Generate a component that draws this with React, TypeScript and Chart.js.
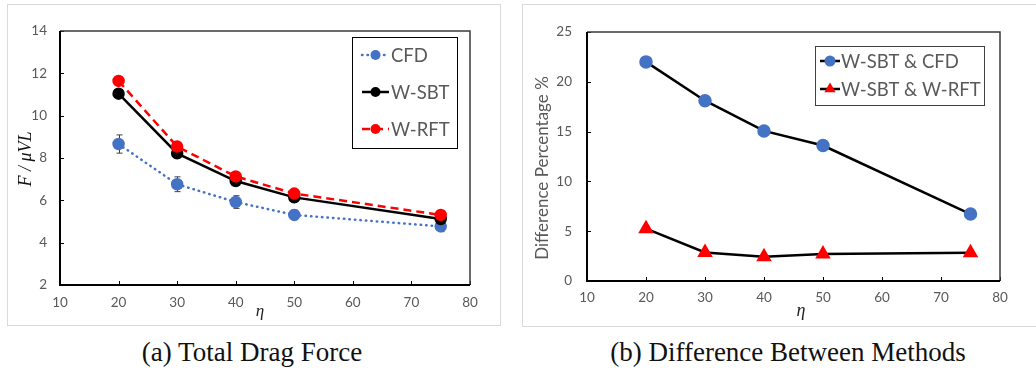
import React, { useEffect, useRef } from "react";
import { Chart, registerables } from "chart.js";

Chart.register(...registerables);

// ---------- data ----------
const etaValues = [20, 30, 40, 50, 75];
const cfdForce = [8.66, 6.76, 5.92, 5.31, 4.77];
const cfdError = [0.43, 0.35, 0.3, 0.23, 0.25];
const wsbtForce = [11.04, 8.22, 6.91, 6.14, 5.12];
const wrftForce = [11.64, 8.54, 7.13, 6.32, 5.31];
const diffSbtCfd = [22.0, 18.1, 15.07, 13.6, 6.72];
const diffSbtRft = [5.25, 2.87, 2.43, 2.7, 2.83];

const xTickRange = { min: 10, max: 80, step: 10 };
const leftYRange = { min: 2, max: 14, step: 2 };
const rightYRange = { min: 0, max: 25, step: 5 };

const leftLabels = ["CFD", "W-SBT", "W-RFT"];
const rightLabels = ["W-SBT & CFD", "W-SBT & W-RFT"];

const SANS = "Lato, 'Open Sans', sans-serif";
const GREY = "#595959";
const BLUE = "#4472C4";
const RED = "#FF0000";

const toXY = (ys: number[]) => etaValues.map((x, i) => ({ x, y: ys[i] }));

// ---------- plugins ----------
const framePlugin = {
  id: "frame",
  beforeDatasetsDraw(chart: any) {
    const { ctx, chartArea: a, scales } = chart;
    ctx.save();
    ctx.strokeStyle = "#000";
    ctx.lineWidth = 1;
    scales.x.ticks.forEach((t: any) => {
      const px = Math.round(scales.x.getPixelForValue(t.value)) + 0.5;
      ctx.beginPath();
      ctx.moveTo(px, a.bottom);
      ctx.lineTo(px, a.bottom - 4);
      ctx.stroke();
    });
    scales.y.ticks.forEach((t: any) => {
      const py = Math.round(scales.y.getPixelForValue(t.value)) + 0.5;
      ctx.beginPath();
      ctx.moveTo(a.left, py);
      ctx.lineTo(a.left + 4, py);
      ctx.stroke();
    });
    ctx.strokeStyle = "#3a3a3a";
    ctx.lineWidth = 1.5;
    ctx.beginPath();
    ctx.moveTo(a.left, a.top);
    ctx.lineTo(a.right, a.top);
    ctx.lineTo(a.right, a.bottom);
    ctx.stroke();
    ctx.strokeStyle = "#000";
    ctx.lineWidth = 2;
    ctx.beginPath();
    ctx.moveTo(a.left, a.top);
    ctx.lineTo(a.left, a.bottom);
    ctx.lineTo(a.right, a.bottom);
    ctx.stroke();
    ctx.restore();
  },
};

const errorBarPlugin = {
  id: "errorBars",
  beforeDatasetsDraw(chart: any, _args: any, opts: any) {
    if (!opts || !opts.errors) return;
    const { ctx, scales } = chart;
    const ds = chart.data.datasets[opts.datasetIndex];
    ctx.save();
    ctx.strokeStyle = "#404040";
    ctx.lineWidth = 1;
    ds.data.forEach((p: any, i: number) => {
      const e = opts.errors[i];
      const x = Math.round(scales.x.getPixelForValue(p.x)) + 0.5;
      const yT = scales.y.getPixelForValue(p.y + e);
      const yB = scales.y.getPixelForValue(p.y - e);
      ctx.beginPath();
      ctx.moveTo(x, yT);
      ctx.lineTo(x, yB);
      ctx.moveTo(x - 3, yT);
      ctx.lineTo(x + 3, yT);
      ctx.moveTo(x - 3, yB);
      ctx.lineTo(x + 3, yB);
      ctx.stroke();
    });
    ctx.restore();
  },
};

const customLegendPlugin = {
  id: "customLegend",
  afterDraw(chart: any, _args: any, opts: any) {
    if (!opts || !opts.box) return;
    const { ctx } = chart;
    const b = opts.box;
    ctx.save();
    ctx.fillStyle = "#fff";
    ctx.fillRect(b.x, b.y, b.w, b.h);
    ctx.strokeStyle = opts.borderColor || "#000";
    ctx.lineWidth = 1;
    ctx.strokeRect(b.x + 0.5, b.y + 0.5, b.w, b.h);
    opts.items.forEach((it: any) => {
      const ds = chart.data.datasets[it.datasetIndex];
      ctx.save();
      ctx.strokeStyle = ds.borderColor;
      ctx.lineWidth = ds.borderWidth;
      ctx.lineCap = ds.borderCapStyle || "butt";
      ctx.setLineDash(ds.borderDash || []);
      ctx.beginPath();
      ctx.moveTo(opts.lineX0, it.y);
      ctx.lineTo(opts.lineX1, it.y);
      ctx.stroke();
      ctx.restore();
      ctx.save();
      ctx.fillStyle = ds.pointBackgroundColor;
      ctx.beginPath();
      const mx = (opts.lineX0 + opts.lineX1) / 2;
      if (ds.pointStyle === "triangle") {
        const r = ds.pointRadius;
        ctx.moveTo(mx, it.y - r);
        ctx.lineTo(mx + r * 0.866, it.y + r * 0.5);
        ctx.lineTo(mx - r * 0.866, it.y + r * 0.5);
        ctx.closePath();
      } else {
        ctx.arc(mx, it.y, ds.pointRadius, 0, Math.PI * 2);
      }
      ctx.fill();
      ctx.restore();
      ctx.fillStyle = GREY;
      ctx.font = opts.font;
      ctx.textBaseline = "middle";
      ctx.textAlign = "left";
      ctx.fillText(it.text, opts.textX, it.y + 1);
    });
    ctx.restore();
  },
};

const axisTitlePlugin = {
  id: "axisTitles",
  afterDraw(chart: any, _args: any, opts: any) {
    if (!opts) return;
    const { ctx } = chart;
    ctx.save();
    ctx.fillStyle = opts.xColor;
    ctx.font = opts.xFont;
    ctx.textAlign = "center";
    ctx.textBaseline = "middle";
    ctx.fillText(opts.xText, opts.xPos.x, opts.xPos.y);
    ctx.translate(opts.yPos.x, opts.yPos.y);
    ctx.rotate(-Math.PI / 2);
    ctx.fillStyle = opts.yColor;
    ctx.font = opts.yFont;
    ctx.fillText(opts.yText, 0, 0);
    ctx.restore();
  },
};

function baseScales(yRange: any, yWidth: number, xHeight: number, yPad: number, xPad: number) {
  return {
    x: {
      type: "linear",
      min: xTickRange.min,
      max: xTickRange.max,
      grid: { display: false, drawTicks: false },
      border: { display: false },
      ticks: {
        stepSize: xTickRange.step,
        color: GREY,
        font: { family: SANS, size: 13.5 },
        padding: xPad,
        maxRotation: 0,
      },
      afterFit(scale: any) {
        scale.height = xHeight;
      },
    },
    y: {
      type: "linear",
      min: yRange.min,
      max: yRange.max,
      grid: { display: false, drawTicks: false },
      border: { display: false },
      ticks: {
        stepSize: yRange.step,
        color: GREY,
        font: { family: SANS, size: 13.5 },
        padding: yPad,
      },
      afterFit(scale: any) {
        scale.width = yWidth;
      },
    },
  };
}

function LeftChart() {
  const ref = useRef<HTMLCanvasElement>(null);
  useEffect(() => {
    const chart = new Chart(ref.current as HTMLCanvasElement, {
      type: "line",
      data: {
        datasets: [
          {
            label: leftLabels[0],
            data: toXY(cfdForce),
            borderColor: BLUE,
            backgroundColor: BLUE,
            pointBackgroundColor: BLUE,
            pointBorderColor: BLUE,
            borderWidth: 2.5,
            borderDash: [0.5, 5],
            borderCapStyle: "round",
            pointRadius: 5,
            pointStyle: "circle",
            order: 2,
          },
          {
            label: leftLabels[1],
            data: toXY(wsbtForce),
            borderColor: "#000",
            backgroundColor: "#000",
            pointBackgroundColor: "#000",
            pointBorderColor: "#000",
            borderWidth: 2.5,
            pointRadius: 5,
            pointStyle: "circle",
            order: 1,
          },
          {
            label: leftLabels[2],
            data: toXY(wrftForce),
            borderColor: RED,
            backgroundColor: RED,
            pointBackgroundColor: RED,
            pointBorderColor: RED,
            borderWidth: 2.5,
            borderDash: [8, 5],
            pointRadius: 5,
            pointStyle: "circle",
            order: 0,
          },
        ],
      } as any,
      options: {
        animation: false,
        responsive: false,
        maintainAspectRatio: false,
        layout: { padding: { top: 31, right: 42, left: 0, bottom: 0 } },
        scales: baseScales(leftYRange, 60, 45, 13, 10) as any,
        plugins: {
          legend: { display: false },
          tooltip: { enabled: false },
          errorBars: { datasetIndex: 0, errors: cfdError },
          customLegend: {
            box: { x: 352, y: 37, w: 105, h: 111 },
            borderColor: "#000",
            lineX0: 362,
            lineX1: 389,
            textX: 391,
            font: `18.5px ${SANS}`,
            items: [
              { datasetIndex: 0, text: leftLabels[0], y: 55 },
              { datasetIndex: 1, text: leftLabels[1], y: 92 },
              { datasetIndex: 2, text: leftLabels[2], y: 129 },
            ],
          },
          axisTitles: {
            xText: "η",
            xFont: "italic 17px 'Liberation Serif', serif",
            xColor: "#222",
            xPos: { x: 260, y: 312 },
            yText: "F / μVL",
            yFont: "italic 18px 'Liberation Serif', serif",
            yColor: "#111",
            yPos: { x: 26, y: 159 },
          },
        } as any,
      },
      plugins: [framePlugin, errorBarPlugin, customLegendPlugin, axisTitlePlugin],
    });
    return () => chart.destroy();
  }, []);
  return (
    <canvas
      ref={ref}
      width={512}
      height={330}
      style={{ position: "absolute", left: 0, top: 0, width: 512, height: 330 }}
    />
  );
}

function RightChart() {
  const ref = useRef<HTMLCanvasElement>(null);
  useEffect(() => {
    const chart = new Chart(ref.current as HTMLCanvasElement, {
      type: "line",
      data: {
        datasets: [
          {
            label: rightLabels[0],
            data: toXY(diffSbtCfd),
            borderColor: "#000",
            backgroundColor: BLUE,
            pointBackgroundColor: BLUE,
            pointBorderColor: BLUE,
            borderWidth: 2.5,
            pointRadius: 5.5,
            pointStyle: "circle",
          },
          {
            label: rightLabels[1],
            data: toXY(diffSbtRft),
            borderColor: "#000",
            backgroundColor: RED,
            pointBackgroundColor: RED,
            pointBorderColor: RED,
            borderWidth: 2.5,
            pointRadius: 6.5,
            pointStyle: "triangle",
          },
        ],
      } as any,
      options: {
        animation: false,
        responsive: false,
        maintainAspectRatio: false,
        layout: { padding: { top: 32, right: 36, left: 0, bottom: 0 } },
        scales: baseScales(rightYRange, 75, 49, 15, 9) as any,
        plugins: {
          legend: { display: false },
          tooltip: { enabled: false },
          customLegend: {
            box: { x: 815 - 512, y: 46, w: 169, h: 59 },
            borderColor: "#404040",
            lineX0: 820 - 512,
            lineX1: 840 - 512,
            textX: 841 - 512,
            font: `18.5px ${SANS}`,
            items: [
              { datasetIndex: 0, text: rightLabels[0], y: 61 },
              { datasetIndex: 1, text: rightLabels[1], y: 89 },
            ],
          },
          axisTitles: {
            xText: "η",
            xFont: "italic 18px 'Liberation Serif', serif",
            xColor: "#222",
            xPos: { x: 801 - 512, y: 311 },
            yText: "Difference Percentage %",
            yFont: `17px ${SANS}`,
            yColor: GREY,
            yPos: { x: 543 - 512, y: 168 },
          },
        } as any,
      },
      plugins: [framePlugin, customLegendPlugin, axisTitlePlugin],
    });
    return () => chart.destroy();
  }, []);
  return (
    <canvas
      ref={ref}
      width={524}
      height={330}
      style={{ position: "absolute", left: 512, top: 0, width: 524, height: 330 }}
    />
  );
}

export default function App() {
  const captionStyle: React.CSSProperties = {
    position: "absolute",
    top: 336,
    fontFamily: "'Liberation Serif', 'Times New Roman', serif",
    fontSize: 27,
    color: "#111",
    whiteSpace: "nowrap",
    transform: "translateX(-50%)",
    lineHeight: "32px",
  };
  return (
    <div
      style={{
        position: "fixed",
        left: 0,
        top: 0,
        width: 1036,
        height: 375,
        background: "#fff",
        overflow: "hidden",
      }}
    >
      <div
        style={{
          position: "absolute",
          left: 7,
          top: 4,
          width: 494,
          height: 322,
          border: "1px solid #d9d9d9",
          boxSizing: "border-box",
        }}
      />
      <div
        style={{
          position: "absolute",
          left: 522,
          top: 4,
          width: 530,
          height: 323,
          border: "1px solid #d9d9d9",
          boxSizing: "border-box",
        }}
      />
      <LeftChart />
      <RightChart />
      <div style={{ ...captionStyle, left: 252 }}>(a) Total Drag Force</div>
      <div style={{ ...captionStyle, left: 788 }}>(b) Difference Between Methods</div>
    </div>
  );
}
